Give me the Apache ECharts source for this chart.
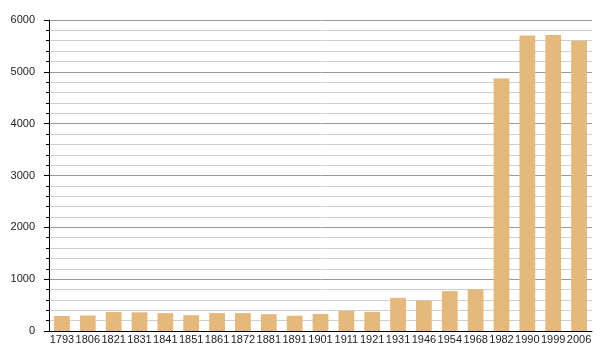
<!DOCTYPE html>
<html>
<head>
<meta charset="utf-8">
<script src="https://cdn.jsdelivr.net/npm/echarts@6/dist/echarts.min.js"></script>
<style>html,body{margin:0;padding:0;background:#fff}#c{width:600px;height:360px}</style>
</head>
<body>
<div id="c"></div>
<script>
const years = ['1793','1806','1821','1831','1841','1851','1861','1872','1881','1891','1901','1911','1921','1931','1946','1954','1968','1982','1990','1999','2006'];
const population = [290,300,365,360,345,305,345,345,325,295,330,390,370,640,585,770,805,4870,5700,5710,5600];
const yMin = 0, yMax = 6000, yStep = 1000;

const chart = echarts.init(document.getElementById('c'), null, {renderer:'canvas'});
chart.setOption({
  animation:false,
  backgroundColor:'#ffffff',
  grid:{left:49, right:8, top:20, bottom:29, containLabel:false},
  xAxis:{
    type:'category', data:years, boundaryGap:true,
    axisLine:{show:true, lineStyle:{color:'#000', width:1}},
    axisTick:{show:false},
    axisLabel:{interval:0, margin:3, color:'#222', fontSize:11, fontFamily:'Liberation Sans, Arial, sans-serif'},
    splitLine:{show:false}
  },
  yAxis:{
    type:'value', min:yMin, max:yMax, interval:yStep,
    axisLine:{show:true, lineStyle:{color:'#000', width:1}},
    axisTick:{show:true, length:5, lineStyle:{color:'#000'}},
    minorTick:{show:true, splitNumber:5, length:3, lineStyle:{color:'#000'}},
    axisLabel:{margin:14, color:'#222', fontSize:11, fontFamily:'Liberation Sans, Arial, sans-serif',
      formatter:function(v){return String(v);}},
    splitLine:{show:true, lineStyle:{color:'#999', width:1}},
    minorSplitLine:{show:true, lineStyle:{color:'#cfcfcf', width:1}}
  },
  series:[{
    type:'bar', data:population, barCategoryGap:'39%',
    itemStyle:{color:'#e5b87c'}
  }]
});
</script>
</body>
</html>
